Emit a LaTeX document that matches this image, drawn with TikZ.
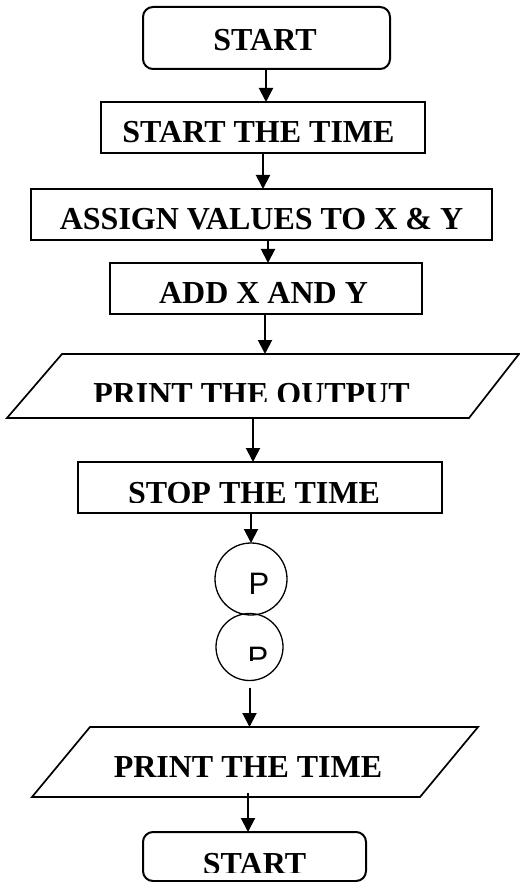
\documentclass[tikz,border=0pt]{standalone}
\usepackage{fontspec}
\setmainfont{Liberation Serif}
\newfontfamily\psans{Liberation Sans}
\usetikzlibrary{arrows.meta}
\begin{document}
\begin{tikzpicture}[x=1pt,y=-1pt,
  box/.style={draw, line width=2pt, inner sep=0pt, outer sep=0pt},
  rbox/.style={box, rounded corners=10pt},
  lbl/.style={anchor=base, inner sep=0pt, font=\bfseries\fontsize{32}{32}\selectfont},
  plbl/.style={anchor=base, inner sep=0pt, font=\psans\fontsize{31}{31}\selectfont},
  conn/.style={draw, line width=1.3pt, inner sep=0pt, outer sep=0pt, circle},
  arr/.style={-{Triangle[length=14pt,width=14pt]}, line width=2pt},
  para/.style={line width=1.7pt, line join=miter}
]
\useasboundingbox (0,0) rectangle (519,882);

% shapes
\node[rbox, minimum width=247pt, minimum height=62pt] (start1) at (266.5,38) {};
\node[box, minimum width=324pt, minimum height=51pt] (stt) at (263,127.5) {};
\node[box, minimum width=461pt, minimum height=51pt] (assign) at (261.5,214.5) {};
\node[box, minimum width=312pt, minimum height=51pt] (add) at (266,288.5) {};
\draw[para] (62,354) -- (519,354) -- (469,418) -- (7,418) -- cycle;
\coordinate (p1top) at (265,354);
\coordinate (p1bot) at (253,418);
\node[box, minimum width=364pt, minimum height=51pt] (stop) at (260,487.5) {};
\node[conn, minimum size=72pt] (c1) at (251,579) {};
\node[conn, minimum size=67pt] (c2) at (249.5,647) {};
\draw[para] (90,727) -- (478,727) -- (420,797) -- (32,797) -- cycle;
\coordinate (p2top) at (250,727);
\coordinate (p2out) at (248,793);
\node[rbox, minimum width=223pt, minimum height=49pt] (start2) at (254.5,856.5) {};

% texts
\node[lbl] (t1) at (265,51) {START};
\node[lbl] (t2) at (258.5,142.5) {START THE TIME};
\node[lbl] (t3) at (261.5,230) {ASSIGN VALUES TO X \& Y};
\node[lbl] (t4) at (263.5,303.5) {ADD X AND Y};
\begin{scope}
  \clip (0,0) rectangle (519,401);
  \node[lbl] (t5) at (251.5,404) {PRINT THE OUTPUT};
\end{scope}
\begin{scope}
  \clip (0,0) rectangle (519,502);
  \node[lbl] (t6) at (254,503.5) {STOP THE TIME};
\end{scope}
\node[plbl] (t7) at (259,594) {P};
\begin{scope}
  \clip (0,0) rectangle (519,660);
  \node[plbl] (t8) at (258,668) {P};
\end{scope}
\node[lbl] (t9) at (248,777) {PRINT THE TIME};
\begin{scope}
  \clip (0,0) rectangle (519,872);
  \node[lbl] (t10) at (254.5,874) {START};
\end{scope}

% connectors
\coordinate (ax1) at (266,0);
\coordinate (ax2) at (263,0);
\coordinate (ax3) at (268,0);
\draw[arr] (start1.south -| ax1) -- (stt.north -| ax1);
\draw[arr] (stt.south -| ax2) -- (assign.north -| ax2);
\draw[arr] (assign.south -| ax3) -- (add.north -| ax3);
\draw[arr] (add.south -| p1top) -- (p1top);
\draw[arr] (p1bot) -- (stop.north -| p1bot);
\draw[arr] (stop.south -| c1.north) -- (c1.north);
\draw[arr, shorten <=7pt] (c2.south) -- (c2.south |- p2top);
\draw[arr] (p2out) -- (start2.north -| p2out);
\end{tikzpicture}
\end{document}
